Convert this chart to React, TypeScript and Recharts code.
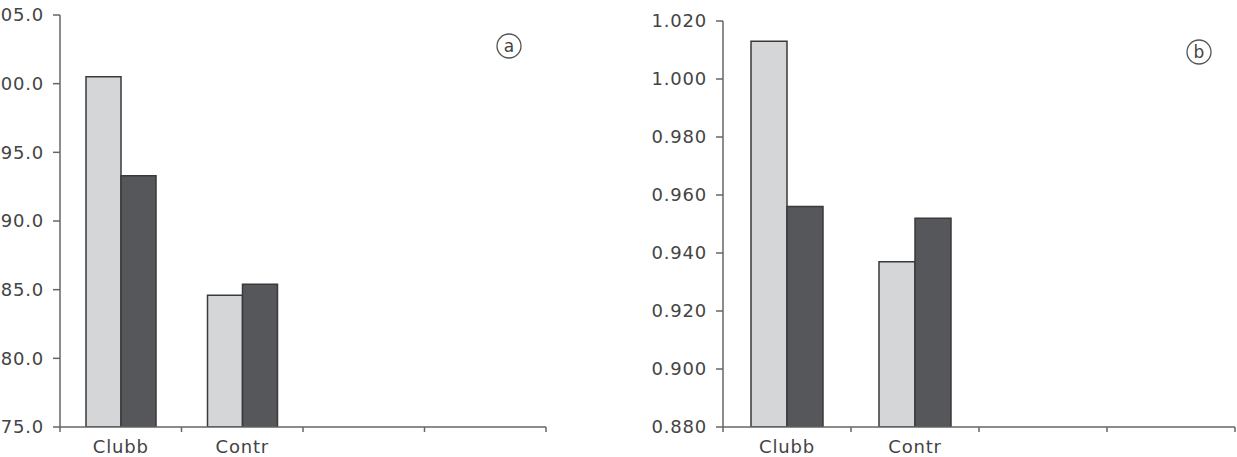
import React from "react";
import { BarChart, Bar, XAxis, YAxis } from "recharts";

const categories = ["Clubb", "Contr", "", ""];
const leftLight = [100.5, 84.6, null, null];
const leftDark = [93.3, 85.4, null, null];
const rightLight = [1.013, 0.937, null, null];
const rightDark = [0.956, 0.952, null, null];
const leftTicks = [75, 80, 85, 90, 95, 100, 105];
const rightTicks = [0.88, 0.9, 0.92, 0.94, 0.96, 0.98, 1.0, 1.02];

const leftData = categories.map((c, i) => ({ cat: c, light: leftLight[i], dark: leftDark[i] }));
const rightData = categories.map((c, i) => ({ cat: c, light: rightLight[i], dark: rightDark[i] }));

const FONT = "'DejaVu Sans', sans-serif";
const TEXT = "#444";
const AXIS = "#666";
const LIGHT = "#d5d6d8";
const DARK = "#55575b";
const STROKE = "#3a3a3a";

const tickStyle = { fontFamily: FONT, fontSize: 18, fill: TEXT, letterSpacing: 0.8 };

const X_TICK_SIZE = 5;
const X_TICK_MARGIN = 8;

function CatTick(props: any) {
  const { x, y, payload, index, visibleTicksCount, width } = props;
  const half = width / visibleTicksCount / 2;
  const axisY = y - X_TICK_SIZE - X_TICK_MARGIN;
  const isLast = index === visibleTicksCount - 1;
  return (
    <g>
      <line
        x1={x - half}
        x2={x - half}
        y1={axisY}
        y2={axisY + X_TICK_SIZE}
        stroke={AXIS}
        strokeWidth={1.5}
      />
      {isLast && (
        <line
          x1={x + half}
          x2={x + half}
          y1={axisY}
          y2={axisY + X_TICK_SIZE}
          stroke={AXIS}
          strokeWidth={1.5}
        />
      )}
      <text x={x} y={y} dy="0.71em" textAnchor="middle" style={tickStyle}>
        {payload.value}
      </text>
    </g>
  );
}

function Badge({ x, y, letter }: { x: number; y: number; letter: string }) {
  return (
    <svg
      width={30}
      height={30}
      style={{ position: "absolute", left: x - 15, top: y - 15, overflow: "visible" }}
    >
      <circle cx={15} cy={15} r={12} fill="none" stroke="#555" strokeWidth={1.3} />
      <text
        x={15}
        y={21}
        textAnchor="middle"
        style={{ fontFamily: FONT, fontSize: 17, fill: TEXT }}
      >
        {letter}
      </text>
    </svg>
  );
}

function Panel({
  data,
  width,
  yAxisWidth,
  marginTop,
  marginRight,
  domain,
  ticks,
  fmt,
  barSize,
}: {
  data: any[];
  width: number;
  yAxisWidth: number;
  marginTop: number;
  marginRight: number;
  domain: [number, number];
  ticks: number[];
  fmt: (v: number) => string;
  barSize: number;
}) {
  return (
    <BarChart
      width={width}
      height={457}
      data={data}
      margin={{ top: marginTop, right: marginRight, left: 0, bottom: 0 }}
      barGap={0}
      barSize={barSize}
    >
      <XAxis
        dataKey="cat"
        height={30}
        axisLine={{ stroke: AXIS, strokeWidth: 1.5 }}
        tickLine={false}
        tickSize={X_TICK_SIZE}
        tickMargin={X_TICK_MARGIN}
        interval={0}
        tick={<CatTick />}
      />
      <YAxis
        width={yAxisWidth}
        domain={domain}
        ticks={ticks}
        allowDataOverflow
        interval={0}
        tickFormatter={fmt}
        axisLine={{ stroke: AXIS, strokeWidth: 1.5 }}
        tickLine={{ stroke: AXIS, strokeWidth: 1.5 }}
        tickSize={7}
        tickMargin={9}
        tick={tickStyle}
      />
      <Bar
        dataKey="light"
        fill={LIGHT}
        stroke={STROKE}
        strokeWidth={1.5}
        isAnimationActive={false}
      />
      <Bar
        dataKey="dark"
        fill={DARK}
        stroke={STROKE}
        strokeWidth={1.5}
        isAnimationActive={false}
      />
    </BarChart>
  );
}

export default function App() {
  return (
    <div
      style={{
        position: "absolute",
        left: 0,
        top: 0,
        width: 1237,
        height: 457,
        background: "#fff",
        overflow: "hidden",
      }}
    >
      <div style={{ position: "absolute", left: 0, top: 0 }}>
        <Panel
          data={leftData}
          width={560}
          yAxisWidth={60}
          marginTop={15}
          marginRight={14}
          domain={[75, 105]}
          ticks={leftTicks}
          fmt={(v) => v.toFixed(1)}
          barSize={35}
        />
      </div>
      <div style={{ position: "absolute", left: 633, top: 0 }}>
        <Panel
          data={rightData}
          width={604}
          yAxisWidth={90}
          marginTop={21}
          marginRight={2}
          domain={[0.88, 1.02]}
          ticks={rightTicks}
          fmt={(v) => v.toFixed(3)}
          barSize={36}
        />
      </div>
      <Badge x={509} y={46} letter="a" />
      <Badge x={1199} y={52} letter="b" />
    </div>
  );
}
